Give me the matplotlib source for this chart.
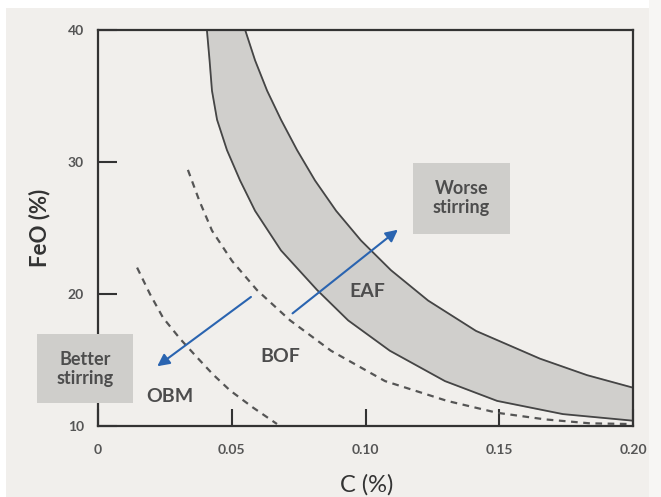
import matplotlib
matplotlib.use("Agg")
from matplotlib import pyplot as plt
from matplotlib.patches import Rectangle

# Curvas (C em %, FeO em %)
eaf_sup_c = [0.0550, 0.0587, 0.0632, 0.0684, 0.0744, 0.0811, 0.0890, 0.0983,
             0.1095, 0.1234, 0.1413, 0.1652, 0.1828, 0.2000]
eaf_sup_feo = [40.0, 37.7, 35.4, 33.2, 30.9, 28.6, 26.3, 24.05,
               21.8, 19.5, 17.2, 15.1, 13.85, 12.9]

eaf_inf_c = [0.0407, 0.0417, 0.0426, 0.0445, 0.0482, 0.0531, 0.0587, 0.0684,
             0.0819, 0.0935, 0.1091, 0.1297, 0.1492, 0.1738, 0.2000]
eaf_inf_feo = [40.0, 37.7, 35.4, 33.2, 30.9, 28.6, 26.3, 23.3,
               20.3, 18.0, 15.7, 13.4, 11.9, 10.9, 10.4]

bof_c = [0.0336, 0.0378, 0.0426, 0.0501, 0.0594, 0.0718, 0.0871, 0.1073,
         0.1305, 0.1492, 0.1671, 0.1839, 0.1989]
bof_feo = [29.4, 27.1, 24.8, 22.5, 20.3, 18.0, 15.7, 13.4,
           11.9, 11.0, 10.5, 10.2, 10.15]

obm_c = [0.0146, 0.0194, 0.0243, 0.0307, 0.0370, 0.0430, 0.0493, 0.0579, 0.0669]
obm_feo = [22.0, 20.0, 18.2, 16.6, 15.2, 13.9, 12.7, 11.4, 10.15]

x_ticks = [0, 0.05, 0.10, 0.15, 0.20]
x_labels = ["0", "0.05", "0.10", "0.15", "0.20"]
y_ticks = [10, 20, 30, 40]
y_labels = ["10", "20", "30", "40"]

fundo = "#f1efec"
cinza_txt = "#4d4d4d"
azul = "#2a64b0"

plt.rcParams['font.family'] = ['Lato', 'DejaVu Sans']

fig = plt.figure(figsize=(6.61, 4.97), dpi=100, facecolor=fundo)
ax = fig.add_axes([0.1483, 0.1429, 0.8094, 0.7968])
ax.set_facecolor(fundo)

# faixas claras nas bordas
fig.patches.append(Rectangle((0, 1 - 8 / 497), 1, 8 / 497, transform=fig.transFigure,
                             facecolor="white", edgecolor="none", zorder=-1))
fig.patches.append(Rectangle((0, 0), 6 / 661, 1, transform=fig.transFigure,
                             facecolor="white", edgecolor="none", zorder=-1))
fig.patches.append(Rectangle((1 - 12 / 661, 0), 12 / 661, 1, transform=fig.transFigure,
                             facecolor="#f7f6f4", edgecolor="none", zorder=-1))

# Faixa EAF
poly_x = eaf_sup_c + [0.2] + eaf_inf_c[::-1]
poly_y = eaf_sup_feo + [eaf_inf_feo[-1]] + eaf_inf_feo[::-1]
ax.fill(poly_x, poly_y, color="#d0cfcc", zorder=1)
ax.plot(eaf_sup_c, eaf_sup_feo, color="#454545", lw=1.3, zorder=2)
ax.plot(eaf_inf_c, eaf_inf_feo, color="#454545", lw=1.3, zorder=2)

# BOF e OBM tracejadas
ax.plot(bof_c, bof_feo, color="#555555", lw=1.6, ls=(0, (3, 2.5)), zorder=2)
ax.plot(obm_c, obm_feo, color="#555555", lw=1.6, ls=(0, (3, 2.5)), zorder=2)

# Setas
ax.annotate("", xy=(0.0213, 14.4), xytext=(0.058, 19.9),
            arrowprops=dict(arrowstyle="-|>", color=azul, lw=1.5, mutation_scale=18), zorder=4)
ax.annotate("", xy=(0.1129, 25.0), xytext=(0.0719, 18.4),
            arrowprops=dict(arrowstyle="-|>", color=azul, lw=1.5, mutation_scale=18), zorder=4)

# Caixas
ax.add_patch(Rectangle((-0.0228, 11.75), 0.0359, 5.24, facecolor="#cfcecb",
                       edgecolor="none", clip_on=False, zorder=5))
ax.text(-0.0049, 14.35, "Better\nstirring", ha="center", va="center", fontsize=13,
        color=cinza_txt, fontweight="bold", linespacing=1.15, zorder=6)
ax.add_patch(Rectangle((0.1178, 24.58), 0.0362, 5.32, facecolor="#cfcecb",
                       edgecolor="none", clip_on=False, zorder=5))
ax.text(0.1359, 27.25, "Worse\nstirring", ha="center", va="center", fontsize=13,
        color=cinza_txt, fontweight="bold", linespacing=1.15, zorder=6)

# Rótulos das regiões
ax.text(0.1008, 20.2, "EAF", ha="center", va="center", fontsize=14, color=cinza_txt,
        fontweight="bold", zorder=6)
ax.text(0.0680, 15.3, "BOF", ha="center", va="center", fontsize=14, color=cinza_txt,
        fontweight="bold", zorder=6)
ax.text(0.0269, 12.2, "OBM", ha="center", va="center", fontsize=14, color=cinza_txt,
        fontweight="bold", zorder=6)

ax.set_xlim(0, 0.2)
ax.set_ylim(10, 40)
ax.set_xticks(x_ticks)
ax.set_xticklabels(x_labels)
ax.set_yticks(y_ticks)
ax.set_yticklabels(y_labels)
ax.tick_params(axis="x", direction="in", length=12, width=1.5, color="#333333",
               pad=13, labelsize=10, labelcolor="#555555")
ax.tick_params(axis="y", direction="in", length=14, width=1.5, color="#333333",
               pad=10, labelsize=10, labelcolor="#555555")
for lbl in ax.get_xticklabels() + ax.get_yticklabels():
    lbl.set_fontweight("bold")
for s in ax.spines.values():
    s.set_linewidth(1.6)
    s.set_color("#333333")
    s.set_zorder(3)

fig.text(367 / 661, 1 - 485 / 497, "C (%)", ha="center", va="center", fontsize=17,
         color="#333333")
fig.text(40 / 661, 1 - 228 / 497, "FeO (%)", ha="center", va="center", fontsize=16,
         color="#333333", fontweight="bold", rotation=90)

fig.savefig("out.png", dpi=100, facecolor=fundo)
